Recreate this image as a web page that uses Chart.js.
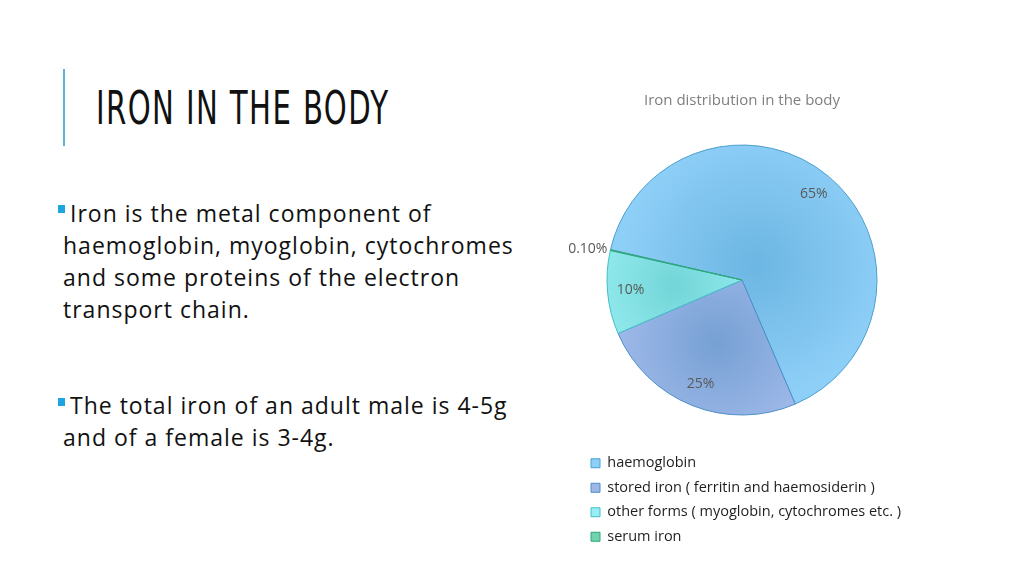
<!DOCTYPE html>
<html>
<head>
<meta charset="utf-8">
<script src="https://cdn.jsdelivr.net/npm/chart.js@4.4.1/dist/chart.umd.min.js"></script>
<style>
  html, body { margin: 0; padding: 0; background: #ffffff; }
  body { width: 1024px; height: 576px; position: relative; overflow: hidden; font-family: "Open Sans", "DejaVu Sans", sans-serif; }
  #bar { position: absolute; left: 63px; top: 69px; width: 2px; height: 77px; background: #5ab4d6; }
  #title { position: absolute; left: 96px; top: 78px; font-family: "Liberation Sans Narrow", "DejaVu Sans Condensed", sans-serif; font-size: 46px; line-height: 60px; color: #111; letter-spacing: 2px; transform-origin: 0 0; transform: scaleX(0.705); white-space: nowrap; }
  .para { position: absolute; left: 63px; font-size: 23px; letter-spacing: 1px; line-height: 32px; color: #111; white-space: nowrap; }
  .bullet { position: absolute; width: 7px; height: 8px; background: #1ea4e0; }
  #chartBox { position: absolute; left: 540px; top: 82px; width: 404px; height: 472px; }
</style>
</head>
<body>
<div id="bar"></div>
<div id="title">IRON IN THE BODY</div>
<div class="bullet" style="left:58px;top:205px;"></div>
<div class="para" style="top:197px;">&nbsp;Iron is the metal component of<br>haemoglobin, myoglobin, cytochromes<br>and some proteins of the electron<br>transport chain.</div>
<div class="bullet" style="left:58px;top:398px;"></div>
<div class="para" style="top:389px;">&nbsp;The total iron of an adult male is 4-5g<br>and of a female is 3-4g.</div>
<div id="chartBox"><canvas id="c"></canvas></div>
<script>
const chartTitle = "Iron distribution in the body";
const categories = [
  "haemoglobin",
  "stored iron ( ferritin and haemosiderin )",
  "other forms ( myoglobin, cytochromes etc. )",
  "serum iron"
];
const percentValues = [65, 25, 10, 0.1];
const edgeColors = ["#8ecff7", "#9cb7e8", "#98eef2", "#6fd3ad"];
const centerColors = ["#6cb6e3", "#76a0d3", "#72d5d7", "#55c09a"];
const borderColors = ["#4b9fd0", "#4b8fc8", "#3fbfc8", "#2fa67a"];

function fmtPct(v) { return (v < 1 ? v.toFixed(2) : String(v)) + "%"; }

function sliceFill(ctx) {
  const i = ctx.dataIndex;
  const chart = ctx.chart;
  const meta = chart.getDatasetMeta(0);
  const el = meta && meta.data ? meta.data[i] : null;
  if (!el || !isFinite(el.x) || !isFinite(el.outerRadius) || el.outerRadius <= 0) return centerColors[i];
  const mid = (el.startAngle + el.endAngle) / 2;
  const R = el.outerRadius;
  const span = el.endAngle - el.startAngle;
  const k = span > Math.PI ? 0.15 : 0.5;
  const gx = el.x + Math.cos(mid) * R * k;
  const gy = el.y + Math.sin(mid) * R * k;
  const g = chart.ctx.createRadialGradient(gx, gy, 0, gx, gy, R * (span > Math.PI ? 1.0 : 0.7));
  g.addColorStop(0, centerColors[i]);
  g.addColorStop(1, edgeColors[i]);
  return g;
}

const labelPlugin = {
  id: "sliceLabels",
  afterDatasetsDraw(chart) {
    const meta = chart.getDatasetMeta(0);
    const c = chart.ctx;
    c.save();
    c.font = '14px "Open Sans", sans-serif';
    c.fillStyle = "#595959";
    c.textBaseline = "middle";
    meta.data.forEach((el, i) => {
      const v = percentValues[i];
      const mid = (el.startAngle + el.endAngle) / 2;
      const R = el.outerRadius;
      const frac = (el.endAngle - el.startAngle) / (2 * Math.PI);
      let x, y;
      if (frac < 0.02) {
        x = el.x + Math.cos(mid) * (R + 3);
        y = el.y + Math.sin(mid) * (R + 3);
        c.textAlign = Math.cos(mid) < 0 ? "right" : "left";
      } else {
        x = el.x + Math.cos(mid) * R * 0.83;
        y = el.y + Math.sin(mid) * R * 0.83;
        c.textAlign = "center";
      }
      c.fillText(fmtPct(v), x, y);
    });
    c.restore();
  }
};

const chart = new Chart(document.getElementById("c"), {
  type: "pie",
  data: {
    labels: categories,
    datasets: [{
      data: percentValues,
      backgroundColor: sliceFill,
      borderColor: borderColors,
      borderWidth: 1,
      radius: 135
    }]
  },
  options: {
    responsive: true,
    maintainAspectRatio: false,
    animation: false,
    rotation: -77,
    layout: { padding: { left: 41, right: 41, top: 0, bottom: 0 } },
    plugins: {
      title: {
        display: true,
        text: chartTitle,
        color: "#7f7f7f",
        font: { family: '"Open Sans", sans-serif', size: 15, weight: "normal" },
        padding: { top: 10, bottom: 4 }
      },
      legend: {
        position: "bottom",
        align: "start",
        labels: {
          boxWidth: 9,
          boxHeight: 9,
          padding: 10,
          color: "#1f1f1f",
          font: { family: '"Open Sans", sans-serif', size: 14.5 }
        }
      },
      tooltip: { enabled: false }
    }
  },
  plugins: [labelPlugin]
});
chart.update();
</script>
</body>
</html>
